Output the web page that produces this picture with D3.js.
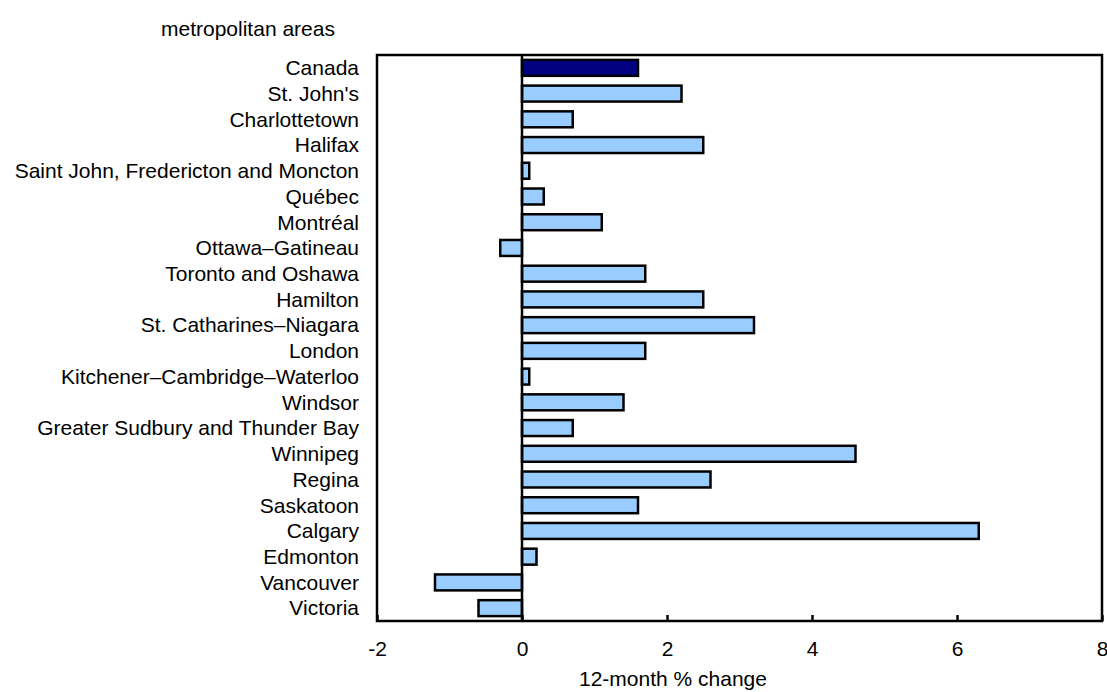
<!DOCTYPE html>
<html><head><meta charset="utf-8">
<script src="https://cdn.jsdelivr.net/npm/d3@7"></script>
<style>body{margin:0;background:#fff}text{font-family:"Liberation Sans",Arial,sans-serif;fill:#000}</style>
</head><body>
<script>
const categories = ["Canada","St. John's","Charlottetown","Halifax","Saint John, Fredericton and Moncton","Québec","Montréal","Ottawa–Gatineau","Toronto and Oshawa","Hamilton","St. Catharines–Niagara","London","Kitchener–Cambridge–Waterloo","Windsor","Greater Sudbury and Thunder Bay","Winnipeg","Regina","Saskatoon","Calgary","Edmonton","Vancouver","Victoria"];
const values = [1.6,2.2,0.7,2.5,0.1,0.3,1.1,-0.3,1.7,2.5,3.2,1.7,0.1,1.4,0.7,4.6,2.6,1.6,6.3,0.2,-1.2,-0.6];
const xTicks = [-2,0,2,4,6,8];
const axisTitle = "12-month % change";
const topLabel = "metropolitan areas";

const W=1107,H=692, L=377, R=1102, T=55, B=621, FS=21;
const svg=d3.select("body").append("svg").attr("width",W).attr("height",H).style("display","block");
const x=d3.scaleLinear().domain([-2,8]).range([L,R]);
const y=d3.scaleBand().domain(categories).range([T,B]).paddingInner(0.38).paddingOuter(0.19);

svg.selectAll("rect.bar").data(values).enter().append("rect")
 .attr("x",d=>x(Math.min(0,d))).attr("width",d=>Math.abs(x(d)-x(0)))
 .attr("y",(d,i)=>y(categories[i])).attr("height",y.bandwidth())
 .attr("fill",(d,i)=>i===0?"#000080":"#99CCFF").attr("stroke","#000").attr("stroke-width",2.5);

svg.append("rect").attr("x",L).attr("y",T).attr("width",R-L).attr("height",B-T).attr("fill","none").attr("stroke","#000").attr("stroke-width",2.5);
svg.append("line").attr("x1",x(0)).attr("x2",x(0)).attr("y1",T).attr("y2",B).attr("stroke","#000").attr("stroke-width",2.5);

const ax=d3.axisBottom(x).tickValues(xTicks).tickSize(-6).tickPadding(20).tickFormat(d3.format("d"));
const g=svg.append("g").attr("transform",`translate(0,${B})`).call(ax);
g.select(".domain").remove();
g.selectAll(".tick line").attr("stroke","#000").attr("stroke-width",2.5);
g.selectAll(".tick text").attr("font-size",FS).attr("font-family",null).text(d=>d<0?"-"+Math.abs(d):d);

svg.selectAll("text.cat").data(categories).enter().append("text")
 .attr("x",359).attr("y",d=>y(d)+y.bandwidth()/2).attr("dy","0.35em")
 .attr("text-anchor","end").attr("font-size",FS).text(d=>d);
svg.append("text").attr("x",161).attr("y",36).attr("font-size",FS).text(topLabel);
svg.append("text").attr("x",673).attr("y",686).attr("text-anchor","middle").attr("font-size",FS).text(axisTitle);
</script>
</body></html>
